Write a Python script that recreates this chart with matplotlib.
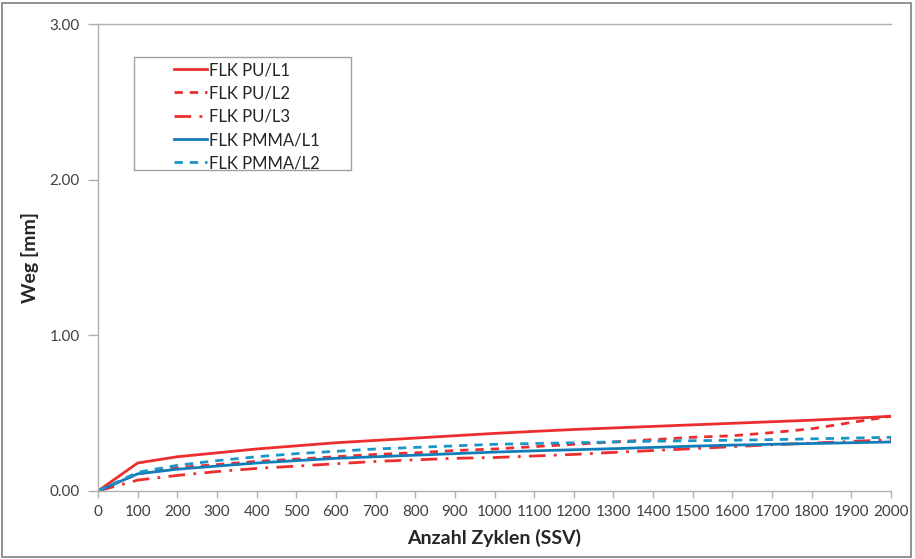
import matplotlib
matplotlib.use("Agg")
import matplotlib.pyplot as plt
from matplotlib.patches import Rectangle

plt.rcParams['font.family'] = ['Lato', 'DejaVu Sans']

cycles = [0, 100, 200, 300, 400, 500, 600, 700, 800, 900, 1000,
          1100, 1200, 1300, 1400, 1500, 1600, 1700, 1800, 1900, 2000]

pu_l1 = [0.00, 0.18, 0.22, 0.245, 0.27, 0.29, 0.31, 0.325, 0.34, 0.355, 0.37,
         0.383, 0.395, 0.405, 0.415, 0.425, 0.435, 0.445, 0.455, 0.467, 0.48]
pu_l2 = [0.00, 0.11, 0.15, 0.17, 0.19, 0.205, 0.22, 0.235, 0.245, 0.26, 0.27,
         0.285, 0.30, 0.315, 0.33, 0.345, 0.355, 0.375, 0.40, 0.44, 0.48]
pu_l3 = [0.00, 0.07, 0.10, 0.125, 0.145, 0.16, 0.175, 0.19, 0.20, 0.21, 0.215,
         0.225, 0.235, 0.248, 0.26, 0.272, 0.285, 0.297, 0.308, 0.318, 0.33]
pmma_l1 = [0.00, 0.11, 0.14, 0.16, 0.18, 0.195, 0.21, 0.22, 0.23, 0.24, 0.25,
           0.258, 0.265, 0.272, 0.28, 0.288, 0.295, 0.30, 0.305, 0.31, 0.315]
pmma_l2 = [0.00, 0.12, 0.165, 0.195, 0.22, 0.24, 0.255, 0.27, 0.28, 0.29, 0.30,
           0.305, 0.31, 0.315, 0.32, 0.323, 0.326, 0.33, 0.335, 0.34, 0.345]

x_ticks = list(range(0, 2001, 100))
y_ticks = [0.0, 1.0, 2.0, 3.0]

red = '#EE2E2E'
blue = '#117DB8'
blue2 = '#1A95C8'

fig = plt.figure(figsize=(9.15, 5.59), dpi=100)
ax = fig.add_axes([98/915, 68/559, 793/915, 467/559])

ax.plot(cycles, pu_l1, color=red, lw=2.0, label='FLK PU/L1')
ax.plot(cycles, pu_l2, color=red, lw=2.0, ls=(0, (3, 2.5)), label='FLK PU/L2')
ax.plot(cycles, pu_l3, color=red, lw=2.0, ls=(0, (6, 3, 1, 3)), label='FLK PU/L3')
ax.plot(cycles, pmma_l1, color=blue, lw=2.0, label='FLK PMMA/L1')
ax.plot(cycles, pmma_l2, color=blue2, lw=2.0, ls=(0, (3, 2.5)), label='FLK PMMA/L2')

ax.set_xlim(0, 2000)
ax.set_ylim(0, 3.0)
ax.set_xticks(x_ticks)
ax.set_yticks(y_ticks)
ax.set_yticklabels([f'{v:.2f}' for v in y_ticks])

ax.spines['right'].set_visible(False)
for s in ['left', 'bottom', 'top']:
    ax.spines[s].set_color('#B0B0B0')
    ax.spines[s].set_linewidth(1.0)

ax.tick_params(axis='both', colors='#B0B0B0', labelcolor='#404040', labelsize=11,
               length=5, width=1.0)
ax.tick_params(axis='y', length=7, pad=6)
ax.tick_params(axis='x', pad=5)

ax.set_xlabel('Anzahl Zyklen (SSV)', fontsize=14, fontweight='bold', color='#262626', labelpad=7)
ax.set_ylabel('Weg [mm]', fontsize=14, fontweight='bold', color='#262626', labelpad=8)

# legend frame (Excel-style with wide padding)
ax.add_patch(Rectangle(((134-98)/793, (491-170)/467), (351-134)/793, (170-57)/467,
                       transform=ax.transAxes, fill=True, facecolor='white',
                       edgecolor='#A0A0A0', lw=1.0, zorder=4))
leg = ax.legend(loc='upper left', bbox_to_anchor=((174-98)/793, (491-62)/467), frameon=False,
                fontsize=12, handlelength=1.95, handletextpad=0.15, borderpad=0,
                labelspacing=0.44, borderaxespad=0)
leg.set_zorder(5)
for t in leg.get_texts():
    t.set_color('#262626')

fig.patches.append(Rectangle((2/915, 2/559), 909/915, 554/559, transform=fig.transFigure,
                             fill=False, edgecolor='#7F7F7F', lw=1.2))

fig.savefig('out.png', dpi=100)
